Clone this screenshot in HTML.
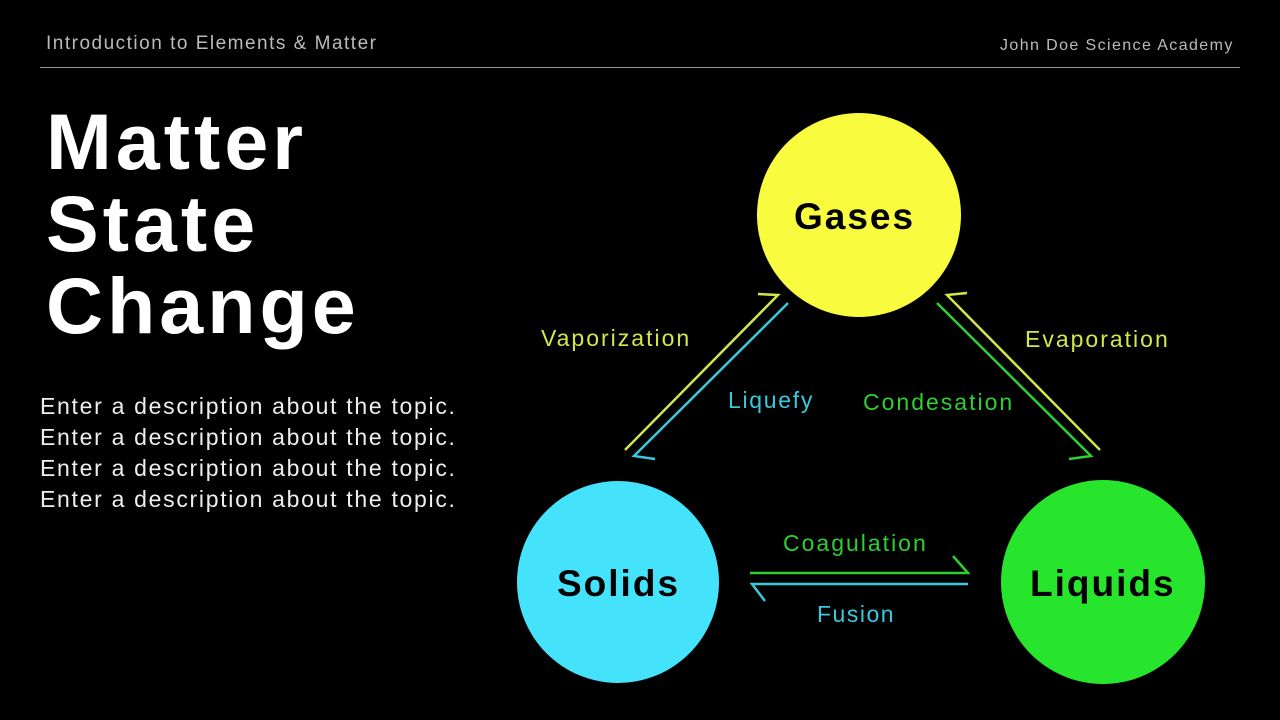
<!DOCTYPE html>
<html><head><meta charset="utf-8"><style>
body{margin:0;width:1280px;height:720px;background:#000;overflow:hidden;font-family:"Liberation Sans",sans-serif;position:relative}
.t{position:absolute;white-space:nowrap}
</style></head><body>
<div class="t" style="left:46px;top:33px;font-size:19px;color:#bbb;letter-spacing:1.5px">Introduction to Elements &amp; Matter</div>
<div class="t" style="left:1000px;top:37px;font-size:16px;color:#bbb;letter-spacing:1.4px">John Doe Science Academy</div>
<div style="position:absolute;left:40px;top:67px;width:1200px;height:1px;background:#999"></div>
<div class="t" style="left:46px;top:101px;font-size:79px;line-height:82px;font-weight:bold;color:#fff;letter-spacing:4px">Matter<br>State<br>Change</div>
<div class="t" style="left:40px;top:391px;font-size:23px;line-height:31px;color:#eee;letter-spacing:1.7px">Enter a description about the topic.<br>Enter a description about the topic.<br>Enter a description about the topic.<br>Enter a description about the topic.</div>
<svg width="1280" height="720" style="position:absolute;left:0;top:0" font-family="Liberation Sans, sans-serif">
<circle cx="859" cy="215" r="102" fill="#f9fb3f"/>
<circle cx="618" cy="582" r="101" fill="#44e3fb"/>
<circle cx="1103" cy="582" r="102" fill="#27e52d"/>
<g font-size="37" font-weight="bold" letter-spacing="2">
<text x="794" y="229">Gases</text>
<text x="557" y="596">Solids</text>
<text x="1030" y="596">Liquids</text>
</g>
<g fill="none" stroke-width="2.5">
<polyline points="625,450 778,295 758,294" stroke="#d4e64a"/>
<polyline points="788,303 634,456 655,459" stroke="#3cc8dc"/>
<polyline points="1100,450 947,295 967,293" stroke="#d4e64a"/>
<polyline points="937,303 1091,456 1069,459" stroke="#2fcf33"/>
<polyline points="750,573 968,573 953,556" stroke="#2fcf33"/>
<polyline points="968,584 752,584 765,601" stroke="#3cc8dc"/>
</g>
<g font-size="23" letter-spacing="2">
<text x="541" y="346" fill="#d4e64a">Vaporization</text>
<text x="728" y="408" fill="#3cc8dc" letter-spacing="1.7">Liquefy</text>
<text x="863" y="410" fill="#2fcf33">Condesation</text>
<text x="1025" y="347" fill="#d4e64a">Evaporation</text>
<text x="783" y="551" fill="#2fcf33">Coagulation</text>
<text x="817" y="622" fill="#3cc8dc" letter-spacing="1.5">Fusion</text>
</g>
</svg>
</body></html>
